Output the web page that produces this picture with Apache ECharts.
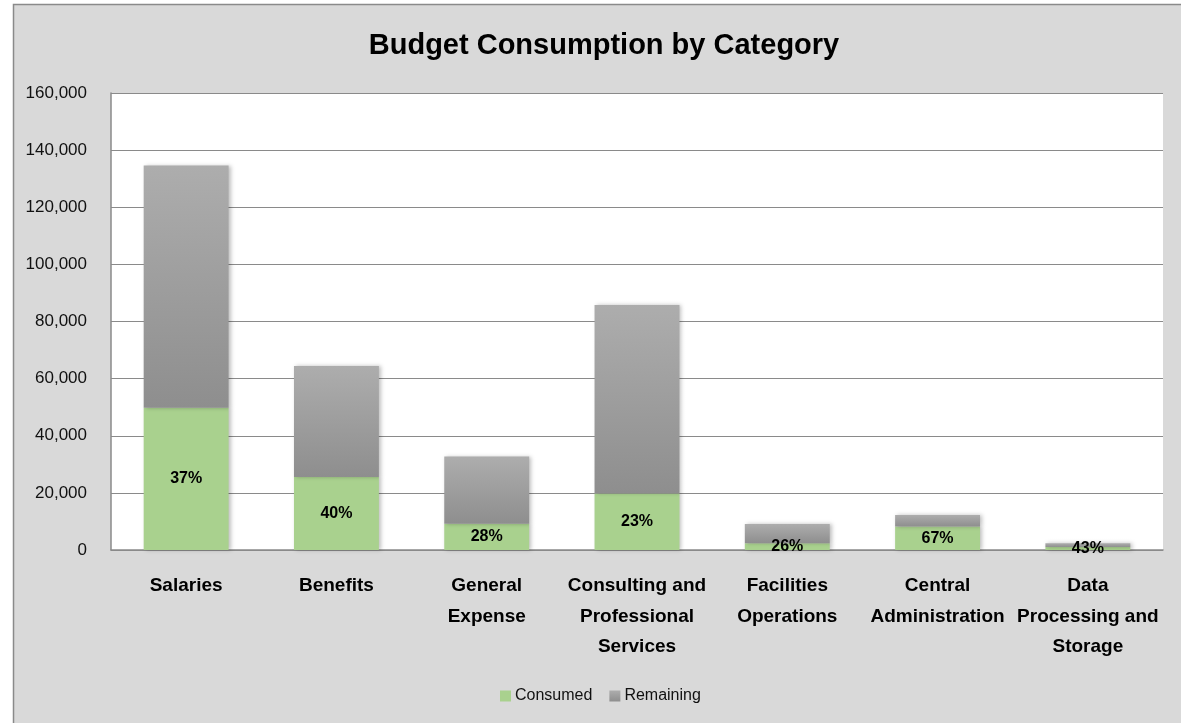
<!DOCTYPE html>
<html>
<head>
<meta charset="utf-8">
<script src="https://cdn.jsdelivr.net/npm/echarts@6/dist/echarts.min.js"></script>
<style>
html,body{margin:0;padding:0;background:#fff;}
#chart{width:1181px;height:723px;}
</style>
</head>
<body>
<div id="chart"></div>
<script>
const categories = ["Salaries", "Benefits", "General\nExpense", "Consulting and\nProfessional\nServices", "Facilities\nOperations", "Central\nAdministration", "Data\nProcessing and\nStorage"];
const consumed = [49800, 25600, 9200, 19800, 2370, 8200, 1020];
const remaining = [84800, 38800, 23500, 66000, 6730, 4050, 1340];
const yTicks = { min: 0, max: 160000, interval: 20000 };
const seriesNames = ["Consumed", "Remaining"];

const FONT = '"Liberation Sans", Arial, sans-serif';
const chart = echarts.init(document.getElementById('chart'));
chart.setOption({
  backgroundColor: '#fff',
  animation: false,
  graphic: [{
    type: 'rect', z: -10, silent: true,
    shape: { x: 13.5, y: 4.5, width: 1200, height: 800 },
    style: { fill: '#D9D9D9', stroke: '#8a8a8a', lineWidth: 1.5 }
  }],
  title: {
    text: 'Budget Consumption by Category',
    left: 599, top: 26, textAlign: 'center',
    textStyle: { fontFamily: FONT, fontWeight: 'bold', fontSize: 29, color: '#000' }
  },
  legend: {
    data: seriesNames,
    left: 495, top: 683,
    itemWidth: 11, itemHeight: 11, itemGap: 17,
    icon: 'rect',
    textStyle: { fontFamily: FONT, fontSize: 16, color: '#111', padding: [0,0,0,-1] }
  },
  grid: {
    left: 111, right: 18, top: 93, bottom: 173,
    show: true, backgroundColor: '#fff', borderWidth: 0
  },
  xAxis: {
    type: 'category',
    data: categories,
    axisLine: { show: true, lineStyle: { color: '#8a8a8a', width: 1.5 } },
    axisTick: { show: false },
    axisLabel: {
      interval: 0, margin: 21, lineHeight: 30.5,
      fontFamily: FONT, fontWeight: 'bold', fontSize: 19, color: '#000'
    }
  },
  yAxis: {
    type: 'value',
    min: yTicks.min, max: yTicks.max, interval: yTicks.interval,
    axisLine: { show: true, lineStyle: { color: '#8a8a8a', width: 1.5 } },
    axisTick: { show: false },
    splitLine: { show: true, lineStyle: { color: '#8a8a8a', width: 1.2 } },
    axisLabel: {
      margin: 24, fontFamily: FONT, fontSize: 17, color: '#111',
      formatter: v => v.toLocaleString('en-US')
    }
  },
  series: [
    {
      name: seriesNames[0], type: 'bar', stack: 'total', barWidth: '56.5%',
      data: consumed,
      itemStyle: { color: '#A9D18E', shadowBlur: 4, shadowColor: 'rgba(0,0,0,0.25)', shadowOffsetX: 2 },
      label: {
        show: true, position: 'inside',
        fontFamily: FONT, fontWeight: 'bold', fontSize: 16, color: '#000',
        formatter: p => Math.round(consumed[p.dataIndex] / (consumed[p.dataIndex] + remaining[p.dataIndex]) * 100) + '%'
      }
    },
    {
      name: seriesNames[1], type: 'bar', stack: 'total', barWidth: '56.5%',
      data: remaining,
      itemStyle: {
        color: new echarts.graphic.LinearGradient(0, 0, 0, 1, [
          { offset: 0, color: '#ADADAD' }, { offset: 1, color: '#8E8E8E' }
        ]),
        shadowBlur: 4, shadowColor: 'rgba(0,0,0,0.25)', shadowOffsetX: 2
      }
    }
  ]
});
</script>
</body>
</html>
